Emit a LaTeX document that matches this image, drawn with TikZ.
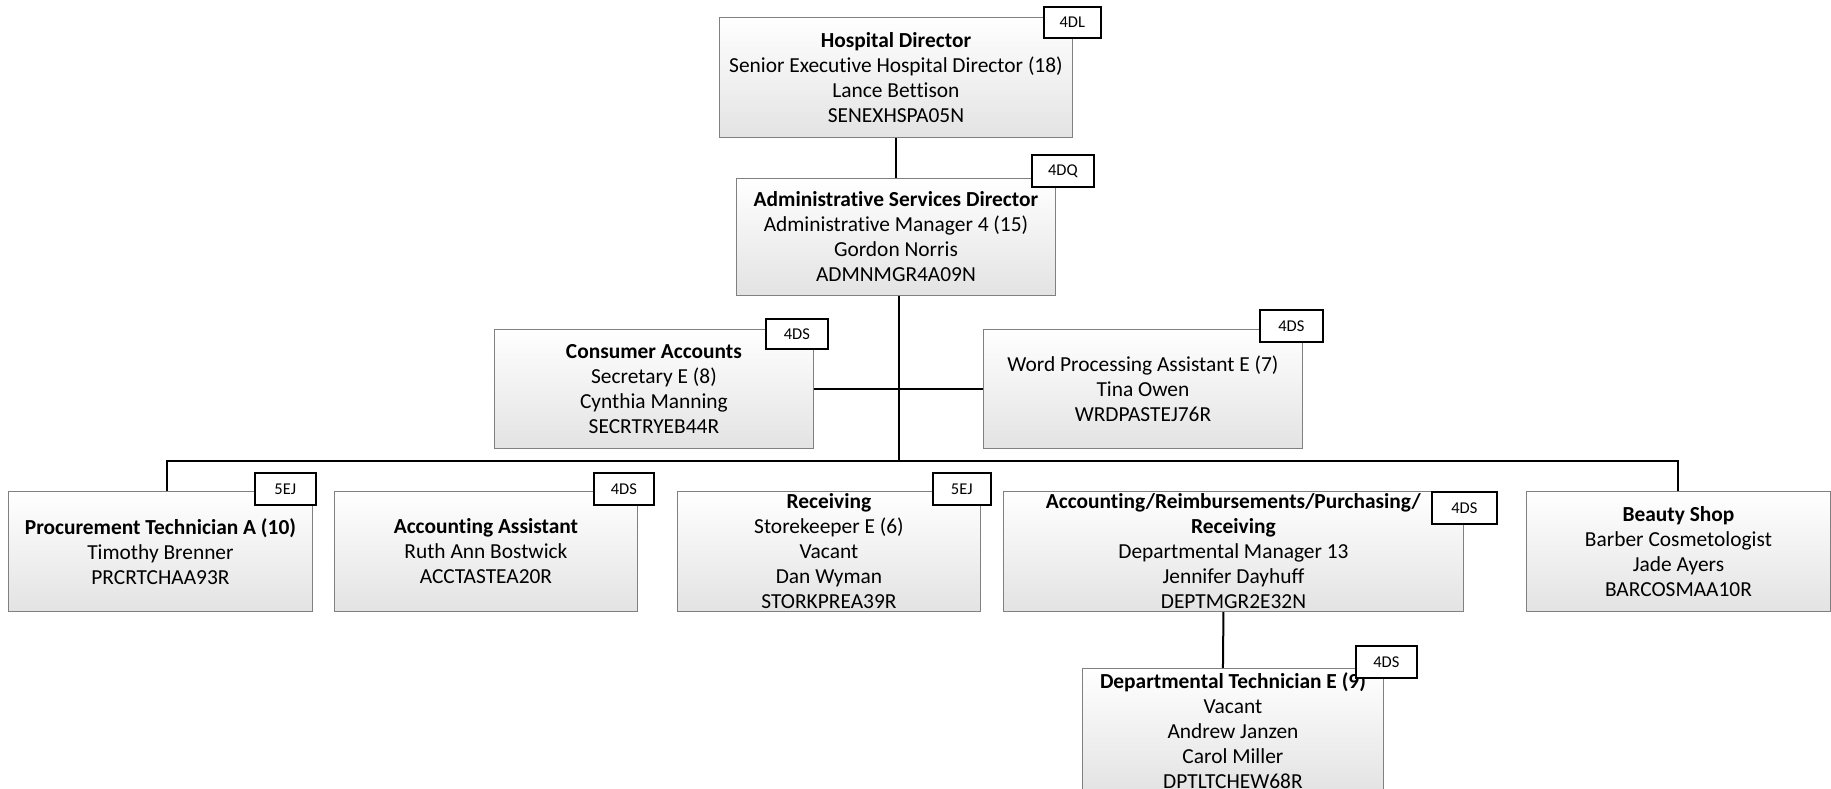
\documentclass[tikz,border=0pt]{standalone}
\usepackage{fontspec}
\setmainfont{Carlito}[RawFeature=-liga]
\usetikzlibrary{backgrounds}
\tikzset{
  orgbox/.style={draw=black!50, line width=0.9pt, top color=white, bottom color=black!11,
    align=center, inner sep=0pt, anchor=north west,
    font=\fontsize{21.4}{25}\selectfont},
  tagbox/.style={draw=black, line width=1.6pt, fill=white, inner sep=0pt, anchor=north west,
    font=\fontsize{16.5}{19}\selectfont},
  link/.style={draw=black, line width=2pt}
}
\begin{document}
\begin{tikzpicture}[x=1pt,y=-1pt]
\useasboundingbox (0,0) rectangle (1831,788);
% boxes
\node[orgbox, minimum width=353pt, minimum height=120pt] (hosp) at (719,17)
  {\textbf{Hospital Director}\\Senior Executive Hospital Director (18)\\Lance Bettison\\SENEXHSPA05N};
\node[orgbox, minimum width=319pt, minimum height=117pt] (admin) at (736,178)
  {\textbf{Administrative Services Director}\\Administrative Manager 4 (15)\\Gordon Norris\\ADMNMGR4A09N};
\node[orgbox, minimum width=319pt, minimum height=119pt] (cons) at (494,329)
  {\textbf{Consumer Accounts}\\Secretary E (8)\\Cynthia Manning\\SECRTRYEB44R};
\node[orgbox, minimum width=319pt, minimum height=119pt] (wp) at (983,329)
  {Word Processing Assistant E (7)\\Tina Owen\\WRDPASTEJ76R};
\node[orgbox, minimum width=304pt, minimum height=120pt] (proc) at (8,491)
  {\textbf{Procurement Technician A (10)}\\Timothy Brenner\\PRCRTCHAA93R};
\node[orgbox, minimum width=303pt, minimum height=120pt] (acca) at (334,491)
  {\textbf{Accounting Assistant}\\Ruth Ann Bostwick\\ACCTASTEA20R};
\node[orgbox, minimum width=303pt, minimum height=120pt] (recv) at (677,491)
  {\textbf{Receiving}\\Storekeeper E (6)\\Vacant\\Dan Wyman\\STORKPREA39R};
\node[orgbox, minimum width=460pt, minimum height=120pt] (arp) at (1003,491)
  {\textbf{Accounting/Reimbursements/Purchasing/}\\\textbf{Receiving}\\Departmental Manager 13\\Jennifer Dayhuff\\DEPTMGR2E32N};
\node[orgbox, minimum width=304pt, minimum height=120pt] (beau) at (1526,491)
  {\textbf{Beauty Shop}\\Barber Cosmetologist\\Jade Ayers\\BARCOSMAA10R};
\node[orgbox, minimum width=301pt, minimum height=124pt] (dtech) at (1082,668)
  {\textbf{Departmental Technician E (9)}\\Vacant\\Andrew Janzen\\Carol Miller\\DPTLTCHEW68R};
% tags
\node[tagbox, minimum width=57pt, minimum height=31pt] (t1) at (1043,6) {4DL};
\node[tagbox, minimum width=62pt, minimum height=32pt] (t2) at (1031,154) {4DQ};
\node[tagbox, minimum width=62pt, minimum height=30pt] (t3) at (765,318) {4DS};
\node[tagbox, minimum width=63pt, minimum height=32pt] (t4) at (1259,309) {4DS};
\node[tagbox, minimum width=61pt, minimum height=32pt] (t5) at (254,472) {5EJ};
\node[tagbox, minimum width=60pt, minimum height=32pt] (t6) at (593,472) {4DS};
\node[tagbox, minimum width=58pt, minimum height=32pt] (t7) at (932,472) {5EJ};
\node[tagbox, minimum width=65pt, minimum height=32pt] (t8) at (1431,491) {4DS};
\node[tagbox, minimum width=61pt, minimum height=32pt] (t9) at (1355,645) {4DS};
% connector points
\coordinate (adminout) at (899,295);
\coordinate (junc) at (899,388);
\coordinate (bus) at (899,461);
\begin{pgfonlayer}{background}
\draw[link] (hosp.south) -- (admin.north);
\draw[link] (adminout) -- (junc) -- (bus);
\draw[link] (cons.east) -- (wp.west);
\draw[link] (bus) -| ([xshift=7pt]proc.north);
\draw[link] (bus) -| (beau.north);
\draw[link] ([xshift=-10pt]arp.south) -- ([xshift=-10pt]dtech.north);
\end{pgfonlayer}
\end{tikzpicture}
\end{document}
